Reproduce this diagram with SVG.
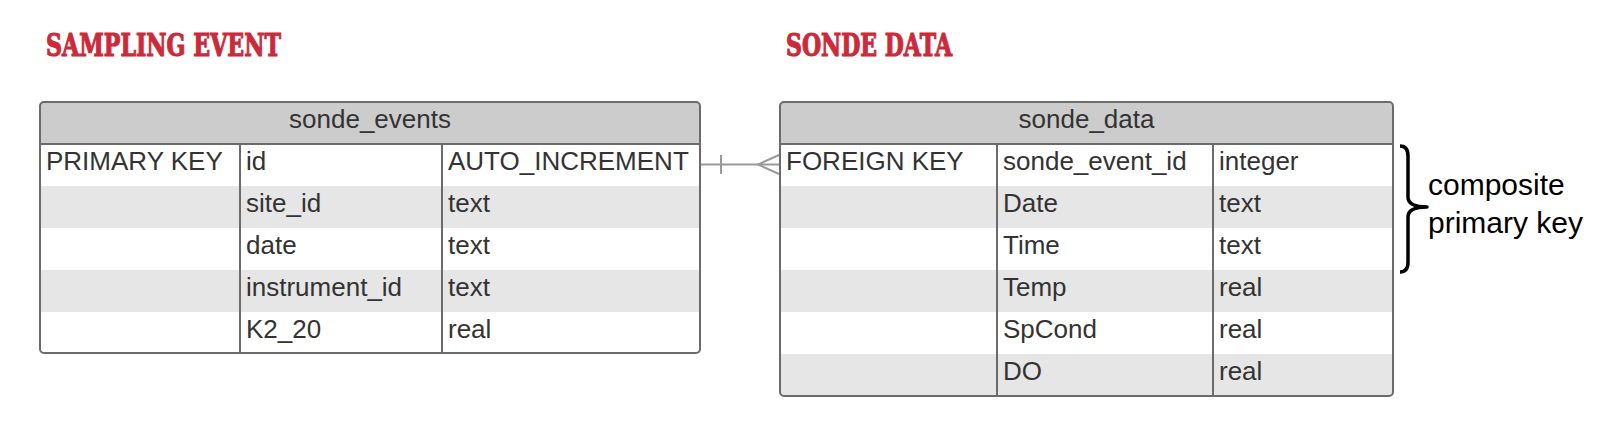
<svg xmlns="http://www.w3.org/2000/svg" width="1614" height="427" viewBox="0 0 1614 427">
<style>
.title{font-family:"DejaVu Serif",serif;font-weight:bold;font-size:31px;fill:#cc2a3a;stroke:#cc2a3a;stroke-width:1.2;stroke-linejoin:miter}
.t{font-family:"Liberation Sans",Arial,sans-serif;font-size:26px;fill:#333333}
.hdr{font-family:"Liberation Sans",Arial,sans-serif;font-size:26px;fill:#333333;text-anchor:middle}
.note{font-family:"Liberation Sans",Arial,sans-serif;font-size:30px;fill:#000000}
.alt{fill:#e6e6e6}
.head{fill:#cccccc}
.frame{fill:none;stroke:#6b6b6b;stroke-width:2}
.div{stroke:#6b6b6b;stroke-width:2}
.conn{fill:none;stroke:#999999;stroke-width:2}
</style>
<defs>
<clipPath id="c1"><rect x="40" y="102" width="660" height="251" rx="4"/></clipPath>
<clipPath id="c2"><rect x="780" y="102" width="613" height="294" rx="4"/></clipPath>
</defs>
<g id="titles">
<text class="title" x="46" y="56" textLength="235" lengthAdjust="spacingAndGlyphs">SAMPLING EVENT</text>
<text class="title" x="786" y="56" textLength="166" lengthAdjust="spacingAndGlyphs">SONDE DATA</text>
</g>
<g id="sonde_events">
<g clip-path="url(#c1)">
<rect x="40" y="102" width="660" height="251" fill="#ffffff"/>
<rect class="head" x="40" y="102" width="660" height="42"/>
<rect class="alt" x="40" y="186" width="660" height="42"/>
<rect class="alt" x="40" y="270" width="660" height="42"/>
</g>
<line class="div" x1="40" y1="144" x2="700" y2="144"/>
<line class="div" x1="240" y1="144" x2="240" y2="353"/>
<line class="div" x1="442" y1="144" x2="442" y2="353"/>
<rect class="frame" x="40" y="102" width="660" height="251" rx="4"/>
<text class="hdr" x="370" y="128">sonde_events</text>
<text class="t" x="46" y="170">PRIMARY KEY</text>
<text class="t" x="246" y="170">id</text>
<text class="t" x="448" y="170">AUTO_INCREMENT</text>
<text class="t" x="246" y="212">site_id</text>
<text class="t" x="448" y="212">text</text>
<text class="t" x="246" y="254">date</text>
<text class="t" x="448" y="254">text</text>
<text class="t" x="246" y="296">instrument_id</text>
<text class="t" x="448" y="296">text</text>
<text class="t" x="246" y="338">K2_20</text>
<text class="t" x="448" y="338">real</text>
</g>
<g id="sonde_data">
<g clip-path="url(#c2)">
<rect x="780" y="102" width="613" height="294" fill="#ffffff"/>
<rect class="head" x="780" y="102" width="613" height="42"/>
<rect class="alt" x="780" y="186" width="613" height="42"/>
<rect class="alt" x="780" y="270" width="613" height="42"/>
<rect class="alt" x="780" y="354" width="613" height="42"/>
</g>
<line class="div" x1="780" y1="144" x2="1393" y2="144"/>
<line class="div" x1="997" y1="144" x2="997" y2="396"/>
<line class="div" x1="1213" y1="144" x2="1213" y2="396"/>
<rect class="frame" x="780" y="102" width="613" height="294" rx="4"/>
<text class="hdr" x="1086.5" y="128">sonde_data</text>
<text class="t" x="786" y="170">FOREIGN KEY</text>
<text class="t" x="1003" y="170">sonde_event_id</text>
<text class="t" x="1219" y="170">integer</text>
<text class="t" x="1003" y="212">Date</text>
<text class="t" x="1219" y="212">text</text>
<text class="t" x="1003" y="254">Time</text>
<text class="t" x="1219" y="254">text</text>
<text class="t" x="1003" y="296">Temp</text>
<text class="t" x="1219" y="296">real</text>
<text class="t" x="1003" y="338">SpCond</text>
<text class="t" x="1219" y="338">real</text>
<text class="t" x="1003" y="380">DO</text>
<text class="t" x="1219" y="380">real</text>
</g>
<g id="connectors">
<path class="conn" d="M701,164.5 H779"/>
<path class="conn" d="M721,155 V174"/>
<path class="conn" d="M779,155 L758,164.5 L779,174"/>
</g>
<g id="composite_key">
<path d="M1400,146 Q1408,146 1408,156 L1408,197 Q1408,207 1427,207 Q1408,207 1408,217 L1408,262 Q1408,272 1400,272" fill="none" stroke="#000000" stroke-width="3.5" stroke-linejoin="round"/>
<text class="note" x="1428" y="195">composite</text>
<text class="note" x="1428" y="233">primary key</text>
</g>
</svg>
